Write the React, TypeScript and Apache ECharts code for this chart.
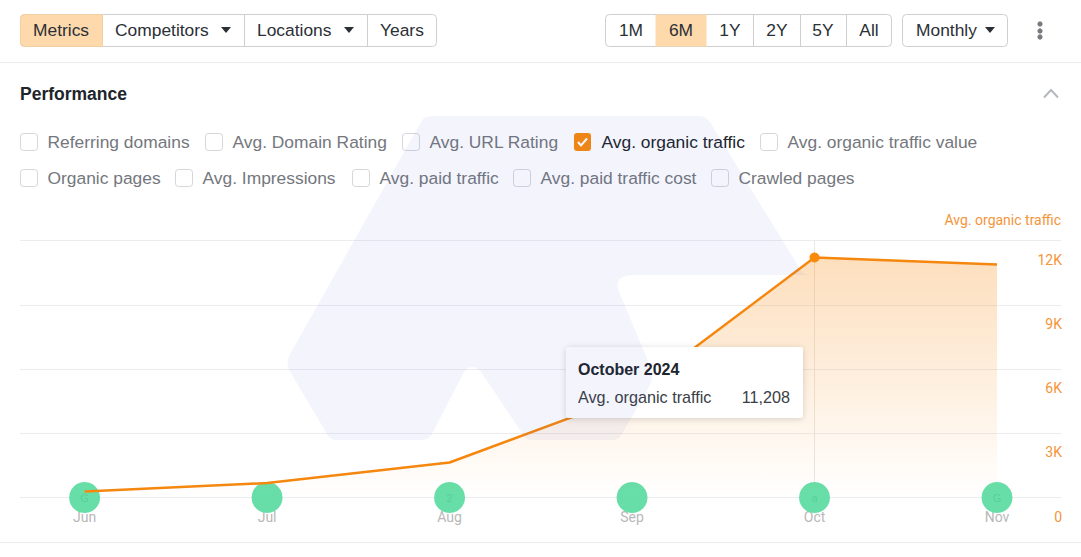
import React, { useEffect, useRef } from "react";
import * as echarts from "echarts";

const months = ["Jun", "Jul", "Aug", "Sep", "Oct", "Nov"];
const traffic = [280, 672, 1633, 4792, 11208, 10880];
const annotationGlyphs = ["G", "", "2", "", "a", "G"];
const yTicks = [0, 3000, 6000, 9000, 12000];
const highlightedIndex = 4;
const highlightedTitle = "October 2024";
const metricName = "Avg. organic traffic";
const row1 = ["Referring domains", "Avg. Domain Rating", "Avg. URL Rating", "Avg. organic traffic", "Avg. organic traffic value"];
const row2 = ["Organic pages", "Avg. Impressions", "Avg. paid traffic", "Avg. paid traffic cost", "Crawled pages"];
const row1X = [20, 205, 402, 574, 760];
const row2X = [20, 175, 352, 513, 711];

const ORANGE = "#f5870f";
const LABEL_ORANGE = "#f4953a";
const FONT = "'Liberation Sans', Arial, sans-serif";
const UI_SIZE = 17.4;

const LOGO =
  "M421 122 Q424 116 431 116 L699 116 Q706 116 710 122 L797 264 Q800 275 810 275 L632 275 Q612 276 620 294 L651 368 Q654 377 650 385 L622 434 Q619 440 612 440 L531 440 Q526 440 524 436 L481 372 Q472 362 464 372 L432 434 Q429 440 422 440 L336 440 Q330 440 327 434 L289 370 Q286 363 289 356 Z";
echarts.graphic.registerShape("wmLogo", echarts.graphic.extendPath(LOGO, {}));

function txt(x: number, y: number, text: string, color = "#2b2f36", fontSize = UI_SIZE, extra: any = {}) {
  return {
    type: "text",
    x,
    y,
    z: 20,
    style: { text, fill: color, fontSize, fontFamily: FONT, verticalAlign: "middle", align: "left", ...extra },
  };
}
function box(x: number, y: number, w: number, h: number, fill: string, stroke: string, r: any = 0, z = 19) {
  return { type: "rect", z, shape: { x: x + 0.5, y: y + 0.5, width: w, height: h, r }, style: { fill, stroke, lineWidth: 1 } };
}
function vline(x: number) {
  return { type: "line", z: 19, shape: { x1: x + 0.5, y1: 15, x2: x + 0.5, y2: 46 }, style: { stroke: "#cfcfcf", lineWidth: 1 } };
}
function hline(y: number) {
  return { type: "line", z: 1, shape: { x1: 0, y1: y + 0.5, x2: 1081, y2: y + 0.5 }, style: { stroke: "#ececec", lineWidth: 1 } };
}
function caret(cx: number, cy: number) {
  return {
    type: "polygon",
    z: 20,
    shape: { points: [[cx - 5, cy - 3], [cx + 5, cy - 3], [cx, cy + 3]] },
    style: { fill: "#2b2f36" },
  };
}
function checkbox(x: number, y: number, label: string, checked: boolean) {
  const out: any[] = [];
  if (checked) {
    out.push({ type: "rect", z: 19, shape: { x, y: y - 9, width: 17, height: 18, r: 3 }, style: { fill: "#f98a0c" } });
    out.push({
      type: "polyline",
      z: 20,
      shape: { points: [[x + 4, y], [x + 7, y + 3.5], [x + 13, y - 3.5]] },
      style: { fill: "none", stroke: "#fff", lineWidth: 2 },
    });
  } else {
    out.push(box(x, y - 9, 17, 17, "#fff", "#d4d6da", 3));
  }
  out.push(txt(x + 27.5, y, label, checked ? "#20242b" : "#74777d"));
  return out;
}

export default function App() {
  const ref = useRef<HTMLDivElement>(null);
  useEffect(() => {
    const chart = echarts.init(ref.current!, undefined, { renderer: "svg" });
    const graphic: any[] = [
      hline(62),
      hline(542),
      // left button group
      box(20, 14, 416, 32, "#fff", "#cfcfcf", 4),
      { type: "rect", z: 19, shape: { x: 20.5, y: 14.5, width: 82, height: 32, r: [4, 0, 0, 4] }, style: { fill: "#fdd9ac", stroke: "#f3cfa3", lineWidth: 1 } },
      vline(244),
      vline(367),
      txt(33, 30, "Metrics"),
      txt(115, 30, "Competitors"),
      caret(226, 30),
      txt(257, 30, "Locations"),
      caret(349, 30),
      txt(380, 30, "Years"),
      // right button group
      box(605, 14, 286, 32, "#fff", "#cfcfcf", 4),
      { type: "rect", z: 19, shape: { x: 655.5, y: 14.5, width: 51, height: 32 }, style: { fill: "#fdd9ac" } },
      vline(753),
      vline(800),
      vline(846),
      txt(631, 30, "1M", "#2b2f36", UI_SIZE, { align: "center" }),
      txt(681, 30, "6M", "#2b2f36", UI_SIZE, { align: "center" }),
      txt(730, 30, "1Y", "#2b2f36", UI_SIZE, { align: "center" }),
      txt(777, 30, "2Y", "#2b2f36", UI_SIZE, { align: "center" }),
      txt(823, 30, "5Y", "#2b2f36", UI_SIZE, { align: "center" }),
      txt(869, 30, "All", "#2b2f36", UI_SIZE, { align: "center" }),
      box(902, 14, 105, 32, "#fff", "#cfcfcf", 4),
      txt(916, 30, "Monthly"),
      caret(990, 30),
      ...[24, 31, 37].map((cy) => ({ type: "circle", z: 20, shape: { cx: 1040, cy, r: 2.6 }, style: { fill: "#777b80" } })),
      // section heading
      txt(20, 93.5, "Performance", "#20242b", 17.5, { fontWeight: "bold" }),
      {
        type: "polyline",
        z: 20,
        shape: { points: [[1044, 97.5], [1051, 90], [1058, 97.5]] },
        style: { fill: "none", stroke: "#b5b8bc", lineWidth: 2 },
      },
      ...row1.flatMap((l, i) => checkbox(row1X[i], 142, l, i === 3)),
      ...row2.flatMap((l, i) => checkbox(row2X[i], 178, l, false)),
      // tooltip
      {
        type: "rect",
        z: 30,
        shape: { x: 566, y: 347, width: 237, height: 71, r: 3 },
        style: { fill: "#fff", shadowBlur: 6, shadowColor: "rgba(0,0,0,0.16)", shadowOffsetY: 1 },
      },
      { ...txt(578, 369.5, highlightedTitle, "#20242b", 16, { fontWeight: "bold" }), z: 31 },
      { ...txt(578, 397, metricName, "#3a3e45", 16.2), z: 31 },
      { ...txt(790, 397, traffic[highlightedIndex].toLocaleString("en-US"), "#3a3e45", 16.2, { align: "right" }), z: 31 },
      // watermark overlay
      { type: "wmLogo", x: 0, y: 0, z: 40, silent: true, style: { fill: "rgba(70,90,210,0.06)" } },
    ];

    chart.setOption({
      animation: false,
      backgroundColor: "#fff",
      textStyle: { fontFamily: FONT },
      graphic,
      grid: [
        { left: 20, width: 1041, top: 240.5, height: 257 },
        { left: 84.6, width: 912.4, top: 240.5, height: 257 },
      ],
      xAxis: [
        { type: "category", gridIndex: 0, data: months, show: false },
        {
          type: "category",
          gridIndex: 1,
          data: months,
          boundaryGap: false,
          axisLine: { show: false },
          axisTick: { show: false },
          splitLine: { show: false },
          axisLabel: { color: "#b8b8b8", fontSize: 14, margin: 12, interval: 0, fontFamily: "Roboto, sans-serif", showMinLabel: true, showMaxLabel: true, hideOverlap: false },
        },
      ],
      yAxis: [
        {
          type: "value",
          gridIndex: 0,
          position: "right",
          min: yTicks[0],
          max: yTicks[yTicks.length - 1],
          interval: yTicks[1] - yTicks[0],
          name: metricName,
          nameLocation: "end",
          nameGap: 21,
          nameTextStyle: { color: LABEL_ORANGE, fontSize: 14, align: "right", verticalAlign: "middle", fontFamily: "Roboto, sans-serif" },
          axisLine: { show: false },
          axisTick: { show: false },
          splitLine: { show: true, lineStyle: { color: "#ececef", width: 1 } },
          axisLabel: {
            color: LABEL_ORANGE,
            fontSize: 14,
            align: "right",
            margin: 1,
            verticalAlign: "top",
            padding: [12, 0, 0, 0],
            fontFamily: "Roboto, sans-serif",
            formatter: (v: number) => (v === 0 ? "0" : v / 1000 + "K"),
          },
        },
        { type: "value", gridIndex: 1, min: yTicks[0], max: yTicks[yTicks.length - 1], show: false },
      ],
      series: [
        {
          type: "scatter",
          xAxisIndex: 1,
          yAxisIndex: 1,
          z: 3,
          symbolSize: 31,
          itemStyle: { color: "#67dea8", opacity: 1 },
          data: months.map((m, i) => ({
            value: [m, 0],
            label: { show: !!annotationGlyphs[i], formatter: annotationGlyphs[i], color: "#58cf9a", fontSize: 11, position: "inside" },
          })),
        },
        {
          type: "line",
          xAxisIndex: 1,
          yAxisIndex: 1,
          z: 4,
          lineStyle: { color: ORANGE, width: 2.5 },
          itemStyle: { color: "#f98a0c" },
          showSymbol: true,
          data: traffic.map((v, i) => ({ value: v, symbol: i === highlightedIndex ? "circle" : "none", symbolSize: 10 })),
          areaStyle: {
            color: new echarts.graphic.LinearGradient(0, 0, 0, 1, [
              { offset: 0, color: "rgba(248,145,30,0.42)" },
              { offset: 1, color: "rgba(248,145,30,0)" },
            ]),
          },
          markLine: {
            silent: true,
            z: 2,
            symbol: "none",
            label: { show: false },
            lineStyle: { color: "#ebe7e2", width: 1, type: "solid" },
            data: [{ xAxis: months[highlightedIndex] }],
          },
        },
      ],
    });
    return () => chart.dispose();
  }, []);
  return <div ref={ref} style={{ position: "fixed", left: 0, top: 0, width: 1081, height: 557 }} />;
}
